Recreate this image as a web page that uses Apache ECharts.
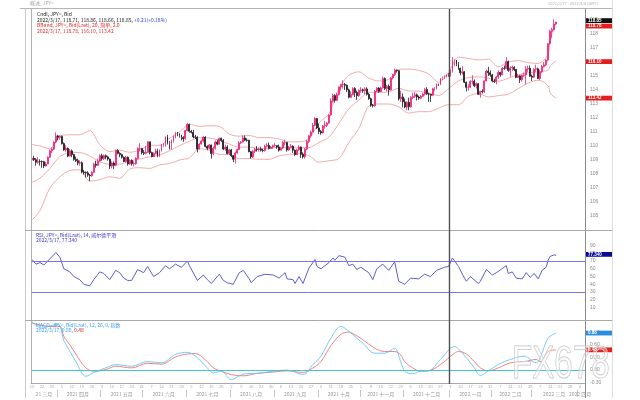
<!DOCTYPE html>
<html><head><meta charset="utf-8">
<script src="https://cdn.jsdelivr.net/npm/echarts@6/dist/echarts.min.js"></script>
<style>html,body{margin:0;padding:0;background:#fff}#c{width:640px;height:400px}</style>
</head><body><div id="c"></div>
<script>
// ---------- DATA ----------
const startDate = '2021-03-15';
const futureSlots = 14;
// daily candles [open, close, low, high], one trading week per line
const candles = [
[109.00,109.13,108.90,109.35],[109.13,109.02,108.93,109.30],[109.02,108.84,108.60,109.13],[108.84,108.90,108.72,109.20],[108.90,108.89,108.60,109.05],
[108.89,108.88,108.45,108.96],[108.88,108.58,108.42,108.94],[108.58,108.72,108.52,108.87],[108.72,109.20,108.70,109.25],[109.20,109.65,109.15,109.75],
[109.65,109.78,109.50,109.90],[109.78,110.28,109.70,110.34],[110.28,110.72,110.20,110.97],[110.72,110.62,110.40,110.80],[110.62,110.68,110.45,110.77],
[110.68,110.17,110.10,110.75],[110.17,109.72,109.65,110.25],[109.72,109.83,109.60,110.05],[109.83,109.28,109.20,109.90],[109.28,109.65,109.25,109.78],
[109.65,109.39,109.20,109.75],[109.39,109.05,108.95,109.45],[109.05,108.95,108.85,109.25],[108.95,108.78,108.62,109.10],[108.78,108.80,108.60,108.98],
[108.80,108.14,108.05,108.90],[108.14,108.10,107.95,108.30],[108.10,108.08,107.75,108.20],[108.08,107.92,107.80,108.20],[107.92,107.88,107.48,108.00],
[107.88,108.12,107.80,108.20],[108.12,108.70,108.05,108.80],[108.70,108.62,108.45,108.95],[108.62,108.92,108.60,109.10],[108.92,109.31,108.85,109.40],
[109.31,109.11,108.95,109.45],[109.11,109.31,109.00,109.40],[109.31,109.22,109.05,109.40],[109.22,109.07,108.95,109.30],[109.07,108.57,108.35,109.10],
[108.57,108.78,108.40,108.90],[108.78,108.62,108.35,108.90],[108.62,109.68,108.55,109.75],[109.68,109.48,109.40,109.78],[109.48,109.38,109.20,109.55],
[109.38,109.20,109.10,109.45],[109.20,108.90,108.85,109.25],[108.90,109.20,108.80,109.30],[109.20,108.72,108.60,109.25],[108.72,108.96,108.65,109.05],
[108.96,108.74,108.60,109.05],[108.74,108.75,108.55,108.90],[108.75,109.12,108.65,109.20],[109.12,109.82,109.05,109.90],[109.82,109.83,109.60,110.20],
[109.83,109.52,109.40,109.85],[109.52,109.48,109.35,109.70],[109.48,109.55,109.40,110.00],[109.55,110.30,109.50,110.35],[110.30,109.53,109.40,110.30],
[109.53,109.24,109.20,109.60],[109.24,109.46,109.20,109.55],[109.46,109.64,109.40,109.80],[109.64,109.30,109.20,109.80],[109.30,109.68,109.20,109.75],
[109.68,110.06,109.60,110.15],[110.06,110.07,109.95,110.20],[110.07,110.66,109.95,110.70],[110.66,110.22,110.10,110.80],[110.22,110.20,109.75,110.35],
[110.20,110.33,109.75,110.45],[110.33,110.63,110.25,110.75],[110.63,110.90,110.55,111.00],[110.90,110.87,110.70,111.00],[110.87,110.77,110.60,110.90],
[110.77,110.61,110.40,110.80],[110.61,110.52,110.30,110.70],[110.52,111.10,110.45,111.15],[111.10,111.54,111.05,111.65],[111.54,111.05,110.95,111.60],
[111.05,110.98,110.90,111.15],[110.98,110.65,110.55,111.15],[110.65,110.63,110.50,110.80],[110.63,109.78,109.55,110.70],[109.78,110.14,109.75,110.20],
[110.14,110.35,110.10,110.45],[110.35,110.62,110.25,110.70],[110.62,109.97,109.90,110.70],[109.97,109.84,109.70,110.05],[109.84,110.07,109.75,110.15],
[110.07,109.46,109.10,110.10],[109.46,109.84,109.35,109.95],[109.84,110.28,109.75,110.40],[110.28,110.13,110.05,110.45],[110.13,110.55,110.10,110.60],
[110.55,110.40,110.30,110.60],[110.40,109.78,109.70,110.50],[109.78,109.92,109.65,110.10],[109.92,109.46,109.40,110.05],[109.46,109.72,109.35,109.80],
[109.72,109.30,109.20,109.80],[109.30,109.05,108.85,109.35],[109.05,109.50,108.75,109.60],[109.50,109.75,109.45,109.80],[109.75,110.22,109.70,110.35],
[110.22,110.29,110.15,110.35],[110.29,110.58,110.25,110.75],[110.58,110.42,110.35,110.75],[110.42,110.40,110.30,110.55],[110.40,109.59,109.55,110.45],
[109.59,109.22,109.10,109.65],[109.22,109.62,109.15,109.70],[109.62,109.77,109.50,109.85],[109.77,109.74,109.60,110.00],[109.74,109.78,109.60,109.90],
[109.78,109.70,109.60,109.95],[109.70,109.67,109.55,109.80],[109.67,109.98,109.60,110.10],[109.98,110.05,109.90,110.20],[110.05,109.83,109.75,110.25],
[109.83,109.92,109.80,110.00],[109.92,110.02,109.80,110.10],[110.02,110.03,109.95,110.20],[110.03,109.93,109.80,110.05],[109.93,109.70,109.60,110.10],
[109.70,109.85,109.70,109.90],[109.85,110.25,109.80,110.35],[110.25,110.25,110.05,110.45],[110.25,109.72,109.60,110.30],[109.72,109.90,109.65,110.00],
[109.90,109.99,109.85,110.15],[109.99,109.70,109.50,110.05],[109.70,109.38,109.30,109.75],[109.38,109.72,109.35,109.80],[109.72,109.93,109.65,110.05],
[109.93,109.41,109.15,109.95],[109.41,109.23,109.10,109.55],[109.23,109.78,109.10,109.85],[109.78,110.32,109.70,110.45],[110.32,110.73,110.20,110.80],
[110.73,111.00,110.60,111.10],[111.00,111.48,110.95,111.65],[111.48,111.97,111.40,112.05],[111.97,111.29,111.20,112.00],[111.29,111.04,110.85,111.60],
[111.04,110.93,110.80,111.15],[110.93,111.44,110.90,111.50],[111.44,111.48,111.25,111.80],[111.48,111.63,111.35,111.70],[111.63,112.22,111.60,112.25],
[112.22,113.22,112.15,113.40],[113.22,113.60,113.10,113.75],[113.60,113.26,113.10,113.70],[113.26,113.67,113.20,113.80],[113.67,114.22,113.60,114.25],
[114.22,114.38,113.95,114.45],[114.38,114.39,114.10,114.70],[114.39,114.33,114.00,114.50],[114.33,114.01,113.85,114.40],[114.01,113.48,113.40,114.10],
[113.48,113.68,113.45,113.90],[113.68,114.10,113.60,114.20],[114.10,113.82,113.50,114.20],[113.82,113.60,113.30,113.95],[113.60,113.97,113.50,114.05],
[113.97,114.01,113.80,114.20],[114.01,113.95,113.80,114.10],[113.95,114.08,113.70,114.20],[114.08,113.69,113.60,114.20],[113.69,113.38,113.30,113.80],
[113.38,112.91,112.80,113.45],[112.91,112.88,112.75,113.00],[112.88,113.91,112.80,114.00],[113.91,114.14,113.85,114.20],[114.14,113.89,113.80,114.20],
[113.89,114.14,113.85,114.25],[114.14,114.82,114.10,114.95],[114.82,114.11,114.00,114.90],[114.11,114.26,113.90,114.35],[114.26,114.01,113.60,114.40],
[114.01,114.86,113.95,114.90],[114.86,115.10,114.75,115.15],[115.10,115.43,115.00,115.52],[115.43,115.38,115.25,115.45],[115.38,113.38,113.25,115.40],
[113.38,113.50,113.15,113.95],[113.50,113.15,112.75,113.75],[113.15,112.79,112.70,113.40],[112.79,113.12,112.55,113.20],[113.12,112.80,112.55,113.45],
[112.80,113.46,112.75,113.55],[113.46,113.54,113.35,113.80],[113.54,113.66,113.45,113.85],[113.66,113.50,113.25,113.75],[113.50,113.42,113.30,113.60],
[113.42,113.55,113.35,113.65],[113.55,113.71,113.50,113.80],[113.71,114.04,113.60,114.15],[114.04,113.72,113.65,114.20],[113.72,113.70,113.15,113.80],
[113.70,113.62,113.15,113.70],[113.62,114.09,113.60,114.15],[114.09,114.10,113.95,114.20],[114.10,114.43,114.05,114.45],[114.43,114.38,114.30,114.45],
[114.38,114.82,114.35,114.85],[114.82,114.84,114.70,114.95],[114.84,114.97,114.80,115.05],[114.97,115.09,114.90,115.15],[115.09,115.08,114.95,115.20],
[115.08,115.32,114.95,115.45],[115.32,116.12,115.25,116.35],[116.12,116.13,115.70,116.20],[116.13,115.84,115.70,116.10],[115.84,115.55,115.45,116.00],
[115.55,115.23,115.05,115.60],[115.23,115.30,115.10,115.70],[115.30,114.56,114.50,115.35],[114.56,114.19,113.90,114.60],[114.19,114.19,113.95,114.40],
[114.19,114.61,114.15,114.70],[114.61,114.62,114.40,115.05],[114.62,114.30,114.20,114.75],[114.30,114.45,114.10,114.55],[114.45,113.69,113.65,114.50],
[113.69,113.89,113.45,113.95],[113.89,113.87,113.75,114.05],[113.87,114.65,113.80,114.70],[114.65,115.35,114.60,115.45],[115.35,115.24,115.00,115.65],
[115.24,115.08,114.95,115.40],[115.08,114.64,114.55,115.15],[114.64,114.60,114.50,114.80],[114.60,114.93,114.40,115.00],[114.93,115.25,114.80,115.40],
[115.25,115.09,114.95,115.30],[115.09,115.55,115.05,115.65],[115.55,115.54,115.45,115.75],[115.54,116.03,115.50,116.35],[116.03,115.40,115.30,116.10],
[115.40,115.58,114.95,115.70],[115.58,115.62,115.35,115.75],[115.62,115.47,115.35,115.70],[115.47,114.90,114.85,115.50],[114.90,115.01,114.85,115.15],
[115.01,114.73,114.50,115.05],[114.73,115.05,114.60,115.10],[115.05,115.07,114.95,115.25],[115.07,115.49,114.40,115.70],[115.49,115.55,115.30,115.75],
[115.55,114.99,114.95,115.75],[114.99,114.91,114.65,115.10],[114.91,115.48,114.85,115.55],[115.48,115.52,115.30,115.80],[115.52,114.82,114.80,115.60],
[114.82,115.30,114.70,115.45],[115.30,115.67,115.20,115.80],[115.67,115.80,115.60,116.00],[115.80,116.14,115.70,116.20],[116.14,117.30,116.05,117.35],
[117.30,118.20,117.25,118.30],[118.20,118.31,117.70,118.45],[118.31,118.71,118.25,119.05],[118.71,118.85,118.66,118.86]
];

// Bollinger bands (20, 2.0) read at sample dates
const bbDates = ['2021-03-15','2021-03-19','2021-03-26','2021-04-02','2021-04-09','2021-04-16','2021-04-23','2021-04-30','2021-05-07','2021-05-14','2021-05-21','2021-05-28','2021-06-04','2021-06-11','2021-06-18','2021-06-25','2021-07-02','2021-07-09','2021-07-16','2021-07-23','2021-07-30','2021-08-06','2021-08-13','2021-08-20','2021-08-27','2021-09-03','2021-09-10','2021-09-17','2021-09-24','2021-10-01','2021-10-08','2021-10-15','2021-10-22','2021-10-29','2021-11-05','2021-11-12','2021-11-19','2021-11-26','2021-12-03','2021-12-10','2021-12-17','2021-12-24','2021-12-31','2022-01-07','2022-01-14','2022-01-21','2022-01-28','2022-02-04','2022-02-11','2022-02-18','2022-02-25','2022-03-04','2022-03-11','2022-03-14','2022-03-16','2022-03-17'];
const bbUpper = [110.10,110.00,109.80,110.70,110.80,110.80,111.10,110.10,109.60,109.70,109.55,109.70,110.05,110.05,110.55,111.00,111.55,111.40,111.45,111.40,110.85,110.70,110.75,110.60,110.60,110.50,110.30,110.30,110.50,111.65,112.30,114.10,115.05,115.30,114.85,114.65,114.75,115.45,115.50,115.40,115.15,114.55,115.25,116.35,116.25,116.15,116.20,115.65,116.00,116.10,115.95,115.90,116.55,117.60,118.45,118.78];
const bbMid   = [107.40,107.70,108.40,109.24,109.53,109.53,109.29,108.87,108.70,108.70,108.94,109.07,109.23,109.35,109.66,110.02,110.34,110.59,110.57,110.41,110.13,109.91,109.93,109.83,109.83,109.92,109.85,109.88,109.89,110.25,110.63,111.60,112.65,113.27,113.84,113.83,113.87,114.12,113.93,113.92,113.79,113.61,114.09,114.65,114.89,114.94,114.85,114.63,114.84,115.09,115.23,115.29,115.42,115.70,115.98,116.10];
const bbLower = [104.70,105.40,107.00,107.80,108.25,108.30,107.50,107.60,107.80,107.70,108.35,108.45,108.40,108.65,108.75,109.00,109.15,109.80,109.70,109.40,109.40,109.10,109.10,109.05,109.05,109.30,109.40,109.45,109.30,108.85,108.95,109.10,110.25,111.25,112.85,113.00,113.00,112.80,112.35,112.45,112.45,112.70,112.95,112.95,113.55,113.75,113.50,113.60,113.70,114.10,114.50,114.70,114.30,113.80,113.50,113.42];

// RSI (14, Wilder)
const rsiDates = ['2021-03-15','2021-03-17','2021-03-19','2021-03-23','2021-03-26','2021-03-31','2021-04-02','2021-04-06','2021-04-09','2021-04-13','2021-04-16','2021-04-20','2021-04-23','2021-04-27','2021-04-30','2021-05-04','2021-05-07','2021-05-12','2021-05-14','2021-05-18','2021-05-20','2021-05-24','2021-05-27','2021-06-01','2021-06-03','2021-06-08','2021-06-11','2021-06-16','2021-06-18','2021-06-23','2021-06-28','2021-07-01','2021-07-02','2021-07-08','2021-07-13','2021-07-15','2021-07-19','2021-07-23','2021-07-27','2021-07-29','2021-08-03','2021-08-06','2021-08-10','2021-08-13','2021-08-16','2021-08-19','2021-08-25','2021-08-31','2021-09-03','2021-09-08','2021-09-09','2021-09-14','2021-09-15','2021-09-17','2021-09-21','2021-09-24','2021-09-29','2021-09-30','2021-10-04','2021-10-08','2021-10-12','2021-10-13','2021-10-15','2021-10-20','2021-10-22','2021-10-26','2021-10-28','2021-11-01','2021-11-05','2021-11-09','2021-11-11','2021-11-16','2021-11-19','2021-11-24','2021-11-26','2021-12-01','2021-12-06','2021-12-10','2021-12-15','2021-12-20','2021-12-23','2021-12-29','2021-12-31','2022-01-04','2022-01-07','2022-01-12','2022-01-13','2022-01-17','2022-01-21','2022-01-24','2022-01-27','2022-02-01','2022-02-03','2022-02-10','2022-02-11','2022-02-15','2022-02-17','2022-02-22','2022-02-24','2022-02-28','2022-03-02','2022-03-04','2022-03-08','2022-03-10','2022-03-11','2022-03-14','2022-03-16','2022-03-17'];
const rsiValues = [72,66,68,65,73,81,75,60,56,50,46,40,38,46,56,54,46,58,55,48,45,45,59,55,63,50,55,64,60,66,62,70,64,45,52,46,41,53,45,42,40,55,58,47,42,50,53,52,48,55,47,46,41,50,41,61,72,63,60,68,74,71,77,75,64,66,59,62,55,46,60,66,58,69,44,40,48,47,53,50,58,62,63,74,63,48,44,50,41,44,59,52,55,64,54,56,48,47,55,49,54,47,58,62,71,76,78,77.34];
const rsiLevels = [70, 30];

// MACD (12, 26, 9)
const macdDates = ['2021-03-15','2021-03-22','2021-03-31','2021-04-02','2021-04-06','2021-04-09','2021-04-14','2021-04-21','2021-04-27','2021-05-05','2021-05-12','2021-05-24','2021-06-03','2021-06-14','2021-06-23','2021-07-01','2021-07-07','2021-07-15','2021-07-20','2021-07-26','2021-08-02','2021-08-10','2021-08-19','2021-08-31','2021-09-09','2021-09-21','2021-09-28','2021-10-04','2021-10-11','2021-10-18','2021-10-22','2021-10-26','2021-11-02','2021-11-10','2021-11-17','2021-11-24','2021-11-29','2021-12-01','2021-12-07','2021-12-13','2021-12-17','2021-12-27','2022-01-05','2022-01-07','2022-01-13','2022-01-19','2022-01-24','2022-01-28','2022-02-04','2022-02-14','2022-02-23','2022-03-03','2022-03-07','2022-03-11','2022-03-17'];
const macdLine   = [1.15,1.00,1.08,1.05,0.70,0.45,0.20,-0.15,-0.06,0.05,0.13,0.09,0.20,0.17,0.37,0.42,0.33,0.05,-0.07,-0.03,-0.23,-0.10,-0.08,-0.03,0.00,-0.11,0.13,0.33,0.76,1.04,0.92,0.84,0.64,0.40,0.40,0.52,0.20,-0.03,-0.09,-0.03,-0.02,0.25,0.56,0.50,0.29,0.05,-0.13,-0.02,0.13,0.25,0.33,0.17,0.29,0.76,0.88];
const signalLine = [1.12,1.06,1.03,1.04,0.80,0.60,0.38,0.05,-0.03,0.01,0.09,0.05,0.16,0.14,0.31,0.38,0.39,0.20,0.05,-0.03,-0.11,-0.14,-0.08,-0.05,-0.02,-0.06,0.05,0.20,0.58,0.85,0.90,0.87,0.72,0.52,0.44,0.44,0.36,0.20,0.05,-0.03,-0.02,0.13,0.40,0.44,0.38,0.20,0.05,-0.02,0.05,0.17,0.20,0.25,0.20,0.44,0.48];

const monthNames = ['21 三月','2021 四月','2021 五月','2021 六月','2021 七月','2021 八月','2021 九月','2021 十月','2021 十一月','2021 十二月','2022 一月','2022 二月','2022 三月','2022 四月'];
const yearStart = '2022-01-03';

// ---------- BUILD ----------
function weekdays(start, n){
  const out=[]; let t=Date.parse(start+'T00:00:00Z');
  while(out.length<n){ const d=new Date(t); const w=d.getUTCDay(); if(w!==0&&w!==6) out.push(d.toISOString().slice(0,10)); t+=86400000; }
  return out;
}
const categories = weekdays(startDate, candles.length + futureSlots);
const monthStart = new Set(), monthMid = {}, groups = [];
categories.forEach((d,i)=>{ const m=d.slice(0,7); if(!groups.length||groups[groups.length-1].m!==m){ groups.push({m,a:i,b:i}); if(i>0) monthStart.add(i);} else groups[groups.length-1].b=i; });
groups.forEach((g,k)=>{ monthMid[Math.floor((g.a+g.b)/2)] = monthNames[k]; });
const isMonday = v => new Date(v+'T00:00:00Z').getUTCDay()===1;
const pair = (ds, vs) => ds.map((d,i)=>[d, vs[i]]);

const CJK = '"Noto Sans CJK SC", "Liberation Sans", sans-serif';
const GL = 31, GR = 640-585;
const yLab = {fontSize:5, color:'#8a8a8a', margin:5, fontFamily:'Liberation Sans'};
const hideCat = (g)=>({gridIndex:g, type:'category', data:categories, axisLine:{show:false, onZero:false}, axisTick:{show:false}, axisLabel:{show:false}, splitLine:{show:false}});
const bbStyle = {color:'#f1a1a1', width:0.9};

const chart = echarts.init(document.getElementById('c'), null, {renderer:'canvas'});
const option = {
  animation:false,
  backgroundColor:'#fff',
  grid:[
    {left:GL, right:GR, top:10, height:220},
    {left:GL, right:GR, top:237.8, height:77.5},
    {left:GL, right:GR, top:321, height:62}
  ],
  xAxis:[
    hideCat(0), hideCat(1),
    {gridIndex:2, type:'category', data:categories, axisLine:{onZero:false, lineStyle:{color:'#a8a8a8', width:1}}, axisTick:{show:false},
     axisLabel:{fontSize:4, color:'#aaa', margin:2, interval:(i,v)=>isMonday(v), formatter:v=>String(+v.slice(8)), fontFamily:'Liberation Sans'}},
    {gridIndex:2, type:'category', data:categories, position:'bottom', offset:7, axisLine:{show:false, onZero:false},
     axisTick:{show:true, interval:(i)=>monthStart.has(i), length:7, lineStyle:{color:'#c4c4c4'}},
     axisLabel:{fontSize:5, color:'#9a9a9a', margin:2, interval:(i)=>monthMid[i]!==undefined, formatter:(v,i)=>monthMid[i]||'', fontFamily:CJK}}
  ],
  yAxis:[
    {gridIndex:0, type:'value', position:'right', min:104, max:119.714, interval:1, axisLine:{show:false}, axisTick:{show:false}, splitLine:{show:false},
     axisLabel:Object.assign({showMinLabel:false, showMaxLabel:false, formatter:v=>v.toFixed(0)}, yLab)},
    {gridIndex:1, type:'value', position:'right', min:0, max:100, interval:10, axisLine:{show:false}, axisTick:{show:false}, splitLine:{show:false},
     axisLabel:Object.assign({showMinLabel:false, showMaxLabel:false}, yLab)},
    {gridIndex:2, type:'value', position:'right', min:-0.31, max:1.167, axisLine:{show:false}, axisTick:{show:false}, splitLine:{show:false},
     axisLabel:Object.assign({showMinLabel:false, showMaxLabel:false, formatter:v=>v.toFixed(2)}, yLab)}
  ],
  series:[
    {type:'candlestick', xAxisIndex:0, yAxisIndex:0, data:candles, barWidth:1.4,
     itemStyle:{color:'#f0217a', color0:'#1a1a1a', borderColor:'#f0217a', borderColor0:'#1a1a1a', borderWidth:0.8}},
    {type:'line', xAxisIndex:0, yAxisIndex:0, data:pair(bbDates,bbUpper), showSymbol:false, smooth:0.3, lineStyle:bbStyle, z:1},
    {type:'line', xAxisIndex:0, yAxisIndex:0, data:pair(bbDates,bbMid), showSymbol:false, smooth:0.3, lineStyle:bbStyle, z:1},
    {type:'line', xAxisIndex:0, yAxisIndex:0, data:pair(bbDates,bbLower), showSymbol:false, smooth:0.3, lineStyle:bbStyle, z:1},
    {type:'line', xAxisIndex:1, yAxisIndex:1, data:pair(rsiDates,rsiValues), showSymbol:false, lineStyle:{color:'#5e5ed2', width:1}, z:3},
    {type:'line', xAxisIndex:2, yAxisIndex:2, data:pair(macdDates,signalLine), showSymbol:false, smooth:0.35, lineStyle:{color:'#f07474', width:0.9}},
    {type:'line', xAxisIndex:2, yAxisIndex:2, data:pair(macdDates,macdLine), showSymbol:false, smooth:0.35, lineStyle:{color:'#62c6f2', width:0.9}}
  ]
};
chart.setOption(option);

// ---------- OVERLAYS (positions from the axes) ----------
const Y = (k,v)=>chart.convertToPixel({yAxisIndex:k}, v);
const X = (d)=>chart.convertToPixel({xAxisIndex:0}, d);
const L = (x1,y1,x2,y2,c,w,z)=>({type:'line', z:z||90, silent:true, shape:{x1,y1,x2,y2}, style:{stroke:c, lineWidth:w||1}});
const T = (x,y,text,opt)=>({type:'text', z:95, silent:true, x, y, style:Object.assign({text, fontSize:5, fontFamily:CJK, fill:'#333', verticalAlign:'middle'}, opt||{})});
const box = (y, text, bg)=>({type:'group', z:98, children:[
  {type:'rect', z:98, shape:{x:586, y:y-2.4, width:26, height:4.8}, style:{fill:bg}},
  {type:'text', z:99, x:588, y:y, style:{text, fontSize:4.5, fill:'#fff', fontFamily:'Liberation Sans', verticalAlign:'middle', fontWeight:'bold'}}
]});
const vx = X(yearStart) - 1;
const rsiLines = rsiLevels.map(v=>{ const y=Math.round(Y(1,v))+0.5; return L(31.5,y,585,y,'#7676e6',1,200); });
const zy = Math.round(Y(2,0))+0.5;
const g = [
  L(20,8.5,612,8.5,'#b5b5b5'),
  L(25.5,8.5,25.5,398,'#c8c8c8'),
  L(31.5,8.5,31.5,383,'#b0b0b0'),
  L(612.5,0,612.5,398,'#dddddd'),
  L(585.5,8.5,585.5,398,'#8c8c8c'),
  L(25,230.5,612,230.5,'#a8a8a8'),
  L(25,320.5,612,320.5,'#a8a8a8'),
  ...rsiLines,
  L(31.5,zy,585,zy,'#46c2d6',1,60),
  L(vx,9,vx,384,'#505050',1.4,201),
  T(30,3.5,'概述_JPY=',{fill:'#aaa', fontSize:5}),
  T(548,3.5,'2022/3/17 - 2022/4/8 (GMT)',{fill:'#b0b0b0', fontSize:4}),
  T(37,14.5,'Cndl, JPY=, Bid',{fill:'#222'}),
  T(37,20,'{a|2022/3/17, 118.71, 118.86, 118.66, 118.85, }{b|+0.21(+0.18%)}',{rich:{a:{fontSize:5,fill:'#222',fontFamily:CJK},b:{fontSize:5,fill:'#2a3cd8',fontFamily:CJK}}}),
  T(37,25.5,'BBand, JPY=, Bid(Last), 20, 简单, 2.0',{fill:'#e02424'}),
  T(37,31.5,'2022/3/17, 118.78, 116.10, 113.42',{fill:'#e02424'}),
  T(36,235.5,'RSI, JPY=, Bid(Last), 14, 威尔德平滑',{fill:'#3838c8'}),
  T(36,240.5,'2022/3/17, 77.340',{fill:'#3838c8'}),
  T(36,325.5,'MACD, JPY=, Bid(Last), 12, 26, 9, 指数',{fill:'#3c9ee8'}),
  T(36,330.5,'{a|2022/3/17, }{b|0.88}{a|, }{c|0.48}',{rich:{a:{fontSize:5,fill:'#3c9ee8',fontFamily:CJK},b:{fontSize:5,fill:'#3c9ee8',fontFamily:CJK},c:{fontSize:5,fill:'#e02424',fontFamily:CJK}}}),
  box(Y(0,118.85)-1.5, '118.85', '#111'),
  box(Y(0,118.78)+3, '118.78', '#e3201e'),
  box(Y(0,116.10)+1, '116.10', '#e3201e'),
  box(Y(0,113.42), '113.42', '#e3201e'),
  box(Y(1,77.34)-1, '77.340', '#0a0a96'),
  box(Y(2,0.88), '0.88', '#2a8de0'),
  box(Y(2,0.48), '0.48', '#e3201e'),
  {type:'text', z:210, silent:true, x:512, y:342, scaleX:0.72, style:{text:'FX678', fontSize:46, fontFamily:'Liberation Sans', fill:'rgba(255,255,255,0.35)', stroke:'#c4c4c4', lineWidth:1}}
];
chart.setOption({graphic:g});
</script></body></html>
